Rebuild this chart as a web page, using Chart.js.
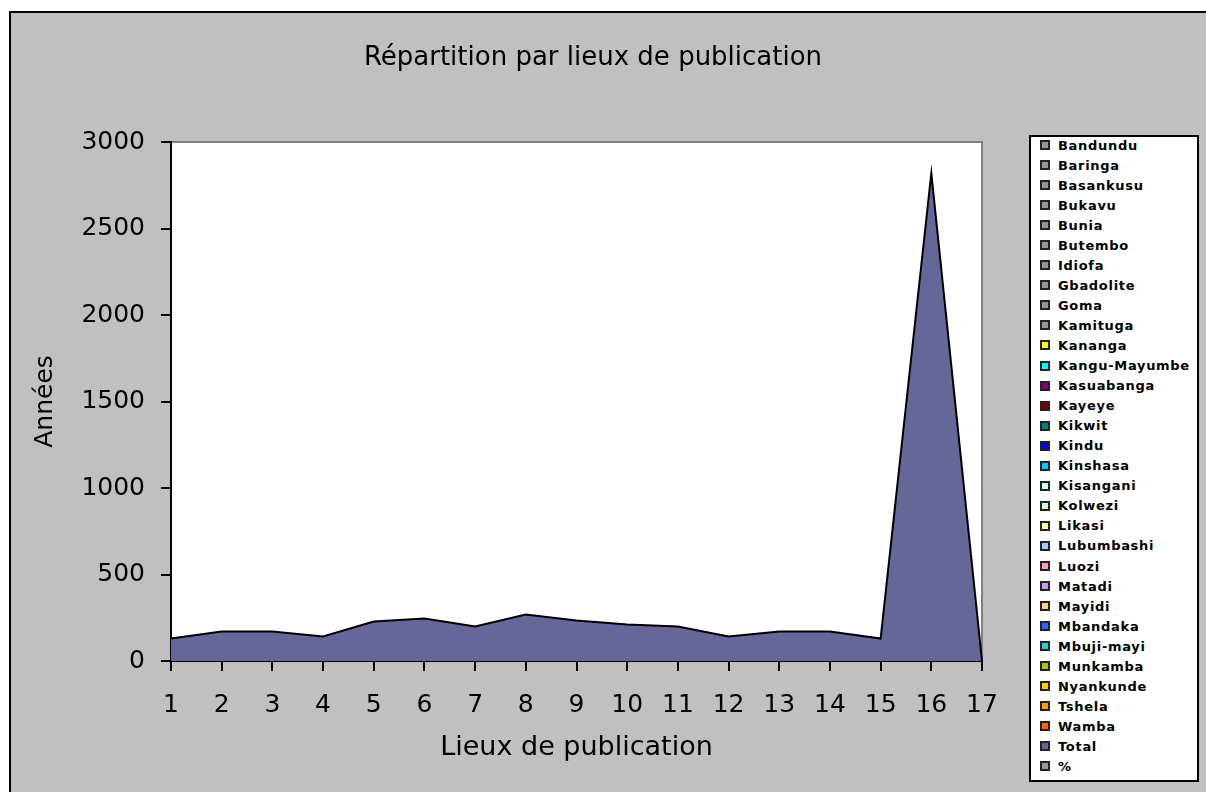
<!DOCTYPE html>
<html>
<head>
<meta charset="utf-8">
<script src="https://cdn.jsdelivr.net/npm/chart.js@4.4.1/dist/chart.umd.min.js"></script>
<style>
html,body{margin:0;padding:0;background:#fff;width:1206px;height:792px;overflow:hidden;}
#frame{position:absolute;left:9px;top:11px;right:0;bottom:0;border-left:2px solid #000;border-top:2px solid #000;background:#c0c0c0;}
#chart{position:absolute;left:0;top:0;}
#legend{position:absolute;left:1029px;top:135px;width:170px;height:647px;box-sizing:border-box;border:2px solid #000;background:#fff;font:bold 13px "DejaVu Sans",sans-serif;letter-spacing:0.7px;color:#000;overflow:hidden;}
#legend .list{margin-top:-2px;}
#legend .item{height:20.06px;display:flex;align-items:center;white-space:nowrap;}
#legend .sw{width:10px;height:10px;box-sizing:border-box;border:2px solid #222;margin-left:9px;margin-right:8px;flex:none;}
</style>
</head>
<body>
<div id="frame"></div>
<canvas id="chart" width="1206" height="792"></canvas>
<div id="legend"><div class="list" id="legendList"></div></div>
<script>
// ---- data ----
const categories = ['1','2','3','4','5','6','7','8','9','10','11','12','13','14','15','16','17'];
const totalValues = [130, 170, 170, 142, 228, 246, 199, 269, 234, 211, 199, 142, 170, 170, 130, 2820, 0];
const yTickMin = 0;
const yTickMax = 3000;
const yTickStep = 500;
const seriesNames = ['Bandundu','Baringa','Basankusu','Bukavu','Bunia','Butembo','Idiofa','Gbadolite','Goma','Kamituga','Kananga','Kangu-Mayumbe','Kasuabanga','Kayeye','Kikwit','Kindu','Kinshasa','Kisangani','Kolwezi','Likasi','Lubumbashi','Luozi','Matadi','Mayidi','Mbandaka','Mbuji-mayi','Munkamba','Nyankunde','Tshela','Wamba','Total','%'];
const seriesColors = ['#969696','#969696','#969696','#969696','#969696','#969696','#969696','#969696','#969696','#969696','#FFFF00','#00FFFF','#800080','#800000','#008080','#0000FF','#00CCFF','#CCFFFF','#CCFFCC','#FFFF99','#99CCFF','#FF99CC','#CC99FF','#FFCC99','#3366FF','#33CCCC','#99CC00','#FFCC00','#FF9900','#FF6600','#666699','#969696'];
const chartTitle = 'Répartition par lieux de publication';
const xTitle = 'Lieux de publication';
const yTitle = 'Années';

const FONT = '"DejaVu Sans", sans-serif';

const datasets = seriesNames.map((name, i) => ({
  label: name,
  data: name === 'Total' ? totalValues : [],
  backgroundColor: seriesColors[i],
  borderColor: '#000',
  borderWidth: 2,
  fill: 'origin',
  pointRadius: 0,
  tension: 0,
  yAxisID: 'y'
}));

const plotBg = {
  id: 'plotBg',
  beforeDraw(chart) {
    const {ctx, chartArea: a} = chart;
    ctx.save();
    ctx.fillStyle = '#fff';
    ctx.fillRect(a.left, a.top, a.right - a.left, a.bottom - a.top);
    ctx.strokeStyle = '#808080';
    ctx.lineWidth = 2;
    ctx.beginPath();
    ctx.moveTo(a.left, a.top);
    ctx.lineTo(a.right, a.top);
    ctx.lineTo(a.right, a.bottom);
    ctx.stroke();
    ctx.restore();
  }
};

const chart = new Chart(document.getElementById('chart'), {
  type: 'line',
  data: { labels: categories, datasets },
  plugins: [plotBg],
  options: {
    responsive: false,
    animation: false,
    events: [],
    layout: { padding: { left: 10, right: 30, top: 0, bottom: 0 } },
    plugins: {
      legend: { display: false },
      tooltip: { enabled: false },
      title: {
        display: true, text: chartTitle, color: '#000',
        font: { family: FONT, size: 26, weight: 'normal', lineHeight: 1.2 },
        padding: { top: 42.4, bottom: 68.4 }
      }
    },
    scales: {
      x: {
        type: 'category', offset: false,
        grid: { display: true, drawOnChartArea: false, drawTicks: true, tickLength: 10, color: '#000', lineWidth: 2 },
        border: { display: true, color: '#000', width: 2 },
        ticks: { color: '#000', font: { family: FONT, size: 25 }, padding: 19, maxRotation: 0, autoSkip: false },
        title: { display: true, text: xTitle, color: '#000', font: { family: FONT, size: 27, lineHeight: 1.2 }, padding: { top: 0, bottom: 28.3 } },
        afterFit(s) { s.height = 131; }
      },
      y: {
        min: yTickMin, max: yTickMax,
        ticks: { stepSize: yTickStep, callback: v => String(v), color: '#000', font: { family: FONT, size: 25 }, padding: 16 },
        grid: { display: true, drawOnChartArea: false, drawTicks: true, tickLength: 10, color: '#000', lineWidth: 2 },
        border: { display: true, color: '#000', width: 2 },
        title: { display: true, text: yTitle, color: '#000', font: { family: FONT, size: 25, lineHeight: 1.2 }, padding: { top: 20, bottom: 0 } },
        afterFit(s) { s.width = 161; }
      },
      y2: {
        position: 'right', display: true,
        grid: { display: false }, ticks: { display: false }, border: { display: false },
        afterFit(s) { s.width = 194; }
      }
    }
  }
});

// HTML legend built from the chart's datasets
const list = document.getElementById('legendList');
chart.data.datasets.forEach(ds => {
  const item = document.createElement('div');
  item.className = 'item';
  const sw = document.createElement('span');
  sw.className = 'sw';
  sw.style.background = ds.backgroundColor;
  const tx = document.createElement('span');
  tx.textContent = ds.label;
  item.appendChild(sw);
  item.appendChild(tx);
  list.appendChild(item);
});
</script>
</body>
</html>
